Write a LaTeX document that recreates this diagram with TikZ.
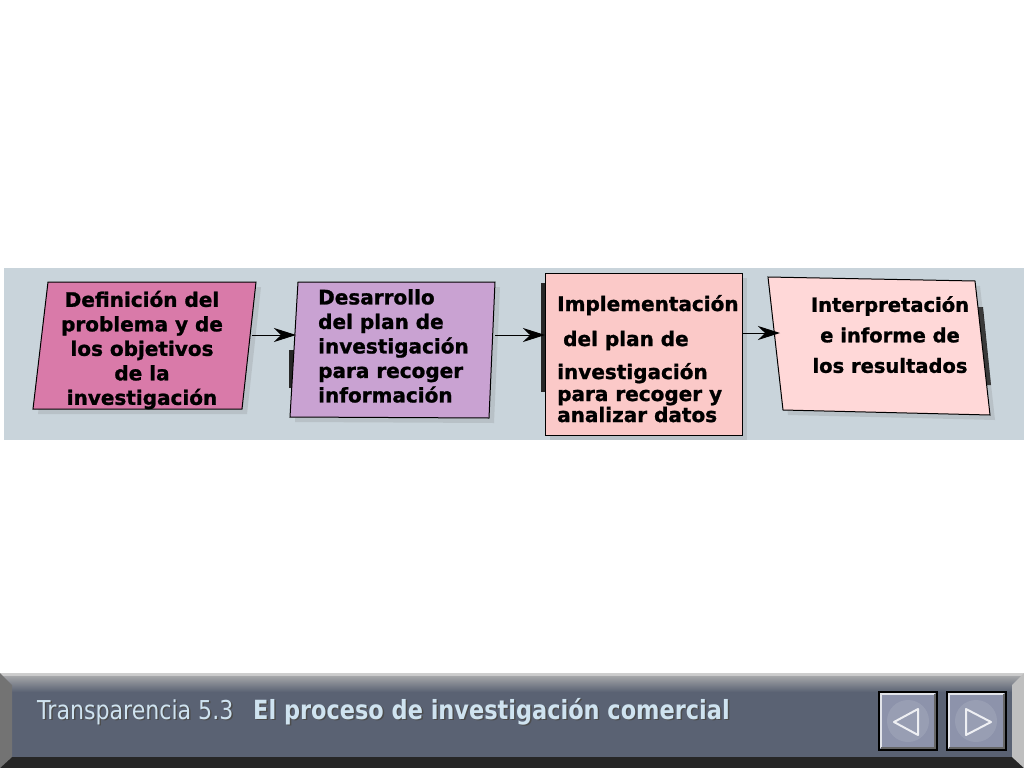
\documentclass[tikz,border=0pt]{standalone}
\usepackage{fontspec}
\setmainfont{DejaVu Sans}
\newfontfamily\boxfont[BoldFeatures={FakeBold=1.2}]{DejaVu Sans}
\newfontfamily\footfont[FakeStretch=0.85]{DejaVu Sans}
\usetikzlibrary{arrows.meta,shadows,calc}
\definecolor{bandc}{HTML}{C9D4DB}
\definecolor{boxa}{HTML}{D97AA9}
\definecolor{boxb}{HTML}{C9A2D2}
\definecolor{boxc}{HTML}{FBC9C8}
\definecolor{boxd}{HTML}{FFD8D8}
\definecolor{footc}{HTML}{5A6273}
\definecolor{foottext}{HTML}{CFE3F0}
\definecolor{btnc}{HTML}{8D93AB}
\tikzset{
  boxshape/.style={draw=black, line width=1pt, drop shadow={opacity=0.22, shadow xshift=5pt, shadow yshift=-5pt}},
  backbar/.style={fill=black!85, draw=none},
  flow/.style={-{Stealth[length=22pt,width=14pt,inset=7pt]}, line width=1pt, black},
  boxtext/.style={font=\boxfont\bfseries\fontsize{20}{24.5}\selectfont, text=black, inner sep=0pt},
  linetext/.style={boxtext, anchor=base west},
  foottxt/.style={font=\footfont\fontsize{26}{30}\selectfont, text=foottext, inner sep=0pt, anchor=base west},
  button/.style={fill=btnc, draw=black, line width=1.2pt},
}
\begin{document}
\begin{tikzpicture}[x=1pt,y=-1pt]
\useasboundingbox (0,0) rectangle (1024,768);
\fill[white] (0,0) rectangle (1024,768);
% band
\fill[bandc] (4,268) rectangle (1024,440);
% back bars (dark edges of underlying shapes)
\fill[backbar] (289,350) rectangle (296,388);
\fill[backbar] (541,283) rectangle (546,392);
\fill[backbar] (978,307) -- (983,307) -- (991,385) -- (986,385) -- cycle;
% box 1
\path[boxshape, fill=boxa] (48,282) -- (256,282) -- (242,409) -- (33,409) -- cycle;
\node[boxtext, align=center] (t1) at (142,350) {Definición del\\problema y de\\los objetivos\\de la\\investigación};
% box 2
\path[boxshape, fill=boxb] (298,282) -- (495,282) -- (489,418) -- (290,417) -- cycle;
\node[boxtext, align=left, anchor=north west] (t2) at (318,289) {Desarrollo\\del plan de\\investigación\\para recoger\\información};
% box 3
\path[boxshape, fill=boxc] (545,273) rectangle (742,435);
\node[linetext] (t3a) at (557,311) {Implementación};
\node[linetext] (t3b) at (563,346) {del plan de};
\node[linetext] (t3c) at (557,379) {investigación};
\node[linetext] (t3d) at (557,401) {para recoger y};
\node[linetext] (t3e) at (557,422) {analizar datos};
% box 4
\path[boxshape, fill=boxd] (768,277) -- (975,281) -- (990,415) -- (783,410) -- cycle;
\node[boxtext, align=center, font=\boxfont\bfseries\fontsize{19.5}{30.5}\selectfont, anchor=north] (t4) at (890,296) {Interpretación\\e informe de\\los resultados};
% connectors
\coordinate (b1r) at (252,335);
\coordinate (b2l) at (296,335);
\coordinate (b2r) at (495,335);
\coordinate (b3l) at (545,335);
\coordinate (b3r) at (742,333);
\coordinate (b4l) at (780,333);
\draw[flow] (b1r) -- (b2l);
\draw[flow] (b2r) -- (b3l);
\draw[flow] (b3r) -- (b4l);
% footer bar
\fill[footc] (0,673) rectangle (1024,768);
\shade[top color=black!30, bottom color=footc] (0,673) rectangle (1024,692);
\fill[black!12, opacity=0.6] (0,673) rectangle (1024,676);
\fill[black!85] (0,757) rectangle (1024,768);
\fill[black!55] (0,673) -- (12,685) -- (12,757) -- (0,768) -- cycle;
\fill[black!25] (1024,673) -- (1012,685) -- (1012,757) -- (1024,768) -- cycle;
\node[foottxt, text=black!70] (f1s) at (38.5,720.5) {Transparencia 5.3};
\node[foottxt] (f1) at (37,719) {Transparencia 5.3};
\node[foottxt, text=black!70, font=\footfont\bfseries\fontsize{26.4}{30}\selectfont] (f2s) at (254.5,720.5) {El proceso de investigación comercial};
\node[foottxt, font=\footfont\bfseries\fontsize{26.4}{30}\selectfont] (f2) at (253,719) {El proceso de investigación comercial};
% buttons
\path[button] (879,692) rectangle (937,750);
\path[button] (947,692) rectangle (1006,750);
\draw[white!75!btnc, line width=2.5pt] (881,748) -- (881,694) -- (935,694);
\draw[white!75!btnc, line width=2.5pt] (949,748) -- (949,694) -- (1004,694);
\draw[black!60, line width=2pt] (935,694) -- (935,748) -- (881,748);
\draw[black!60, line width=2pt] (1004,694) -- (1004,748) -- (949,748);
\fill[btnc!80!white, opacity=0.5] (908,721) circle (21);
\fill[btnc!80!white, opacity=0.5] (976,721) circle (21);
\draw[white!85!btnc, line width=2pt, line join=round] (918,709) -- (894,722) -- (918,735) -- cycle;
\draw[white!85!btnc, line width=2pt, line join=round] (966,709) -- (991,722) -- (966,735) -- cycle;
\end{tikzpicture}
\end{document}
